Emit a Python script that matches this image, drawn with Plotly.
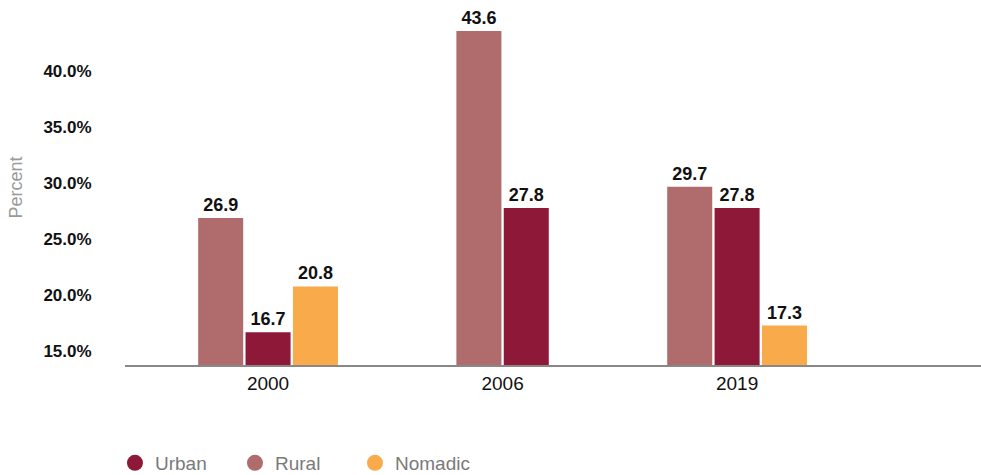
import plotly.graph_objects as go

years = ["2000", "2006", "2019"]
rural = [26.9, 43.6, 29.7]
urban = [16.7, 27.8, 27.8]
nomadic = [20.8, None, 17.3]

y_tickvals = [15, 20, 25, 30, 35, 40]
y_ticktext = ["15.0%", "20.0%", "25.0%", "30.0%", "35.0%", "40.0%"]

series_order = ["Rural", "Urban", "Nomadic"]  # order within each group
legend_order = ["Urban", "Rural", "Nomadic"]
values = {"Rural": rural, "Urban": urban, "Nomadic": nomadic}
colors = {"Rural": "#B06C6C", "Urban": "#8D1838", "Nomadic": "#F9AA4B"}

BAR_W = 0.192
STEP = 0.202

# centered offsets for the series present in each category
offsets = {s: [0.0] * len(years) for s in series_order}
for i in range(len(years)):
    present = [s for s in series_order if values[s][i] is not None]
    n = len(present)
    total = n * STEP - (STEP - BAR_W)
    for k, s in enumerate(present):
        offsets[s][i] = -total / 2 + k * STEP

fig = go.Figure()
for s in series_order:
    fig.add_trace(go.Bar(
        x=years, y=values[s], name=s,
        marker=dict(color=colors[s], line=dict(width=0)),
        width=[BAR_W] * len(years), offset=offsets[s],
        text=[f"{v:.1f}" if v is not None else "" for v in values[s]],
        textposition="outside",
        textfont=dict(family="Liberation Sans, Arial", size=18, color="#111111", weight="bold"),
        cliponaxis=False,
        showlegend=False,
    ))

for s in legend_order:
    fig.add_trace(go.Scatter(
        x=[None], y=[None], mode="markers", name=s,
        marker=dict(color=colors[s], size=20, symbol="circle"),
        showlegend=True,
    ))

fig.update_layout(
    width=981, height=475,
    margin=dict(l=125, r=0, t=10, b=110),
    plot_bgcolor="white", paper_bgcolor="white",
    barmode="overlay",
    font=dict(family="Liberation Sans, Arial", color="#111111"),
    xaxis=dict(
        type="category", range=[-0.61, 3.04],
        showline=True, linecolor="#888888", linewidth=1.5,
        showgrid=False, zeroline=False,
        ticks="", tickfont=dict(size=19, color="#111111"),
        automargin=False,
    ),
    yaxis=dict(
        range=[13.78, 45.48],
        tickvals=y_tickvals, ticktext=y_ticktext,
        tickfont=dict(size=17, color="#111111", weight="bold"),
        showgrid=False, zeroline=False, showline=False,
        ticks="outside", ticklen=29, tickcolor="rgba(0,0,0,0)",
        title=dict(text="Percent", font=dict(size=18, color="#9a9a9a"), standoff=16),
        automargin=False,
    ),
    legend=dict(
        orientation="h", xref="container", yref="container",
        x=0.1172, y=0.0253, xanchor="left", yanchor="middle",
        font=dict(size=19, color="#7a7a7a"),
        entrywidth=75, entrywidthmode="pixels",
        itemsizing="trace",
    ),
)

fig.write_html("out.html", config={"displayModeBar": False},
               post_script="document.body.style.margin='0';")
